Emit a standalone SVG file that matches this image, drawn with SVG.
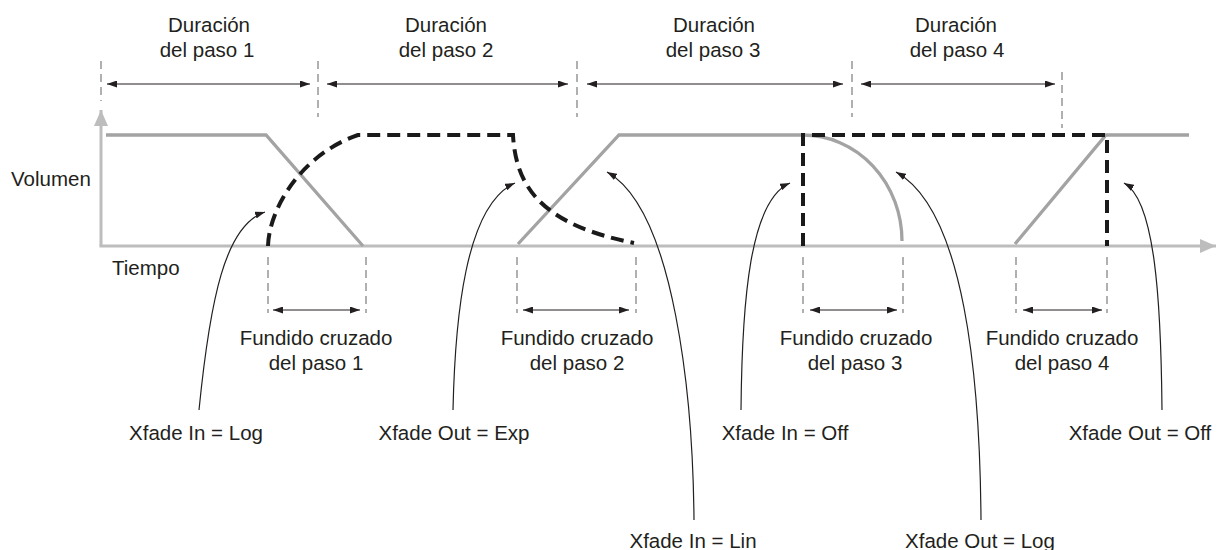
<svg xmlns="http://www.w3.org/2000/svg" width="1218" height="550" viewBox="0 0 1218 550">
<style>
text { font-family: "Liberation Sans", Arial, sans-serif; font-size: 20.5px; fill: #231f20; }
.mid { text-anchor: middle; }
.axis { stroke: #bdbdbd; stroke-width: 3; fill: none; }
.env { stroke: #a3a3a3; stroke-width: 3.3; fill: none; stroke-linejoin: miter; }
.dash { stroke: #1a1a1a; stroke-width: 4; fill: none; stroke-dasharray: 13 7; }
.guide { stroke: #a8a8a8; stroke-width: 1.8; fill: none; stroke-dasharray: 8 5; }
.dim { stroke: #231f20; stroke-width: 1.2; fill: none; marker-start: url(#ah2); marker-end: url(#ah); }
.call { stroke: #231f20; stroke-width: 1.2; fill: none; marker-end: url(#ah); }
</style>
<defs>
<marker id="ah" markerUnits="userSpaceOnUse" markerWidth="10" markerHeight="7" refX="10" refY="3.5" orient="auto">
<path d="M0,0 L10,3.5 L0,7 z" fill="#231f20"/>
</marker>
<marker id="ah2" markerUnits="userSpaceOnUse" markerWidth="10" markerHeight="7" refX="10" refY="3.5" orient="auto-start-reverse">
<path d="M0,0 L10,3.5 L0,7 z" fill="#231f20"/>
</marker>
<marker id="axh" markerUnits="userSpaceOnUse" markerWidth="18" markerHeight="14" refX="16" refY="7" orient="auto">
<path d="M0,0 L16,7 L0,14 z" fill="#bdbdbd"/>
</marker>
</defs>

<g id="axes">
<path class="axis" d="M101,246 L101,110" marker-end="url(#axh)"/>
<path class="axis" d="M99.5,246 L1216,246" marker-end="url(#axh)"/>
<text x="11" y="186">Volumen</text>
<text x="112" y="275">Tiempo</text>
</g>

<g id="step-durations">
<path class="guide" d="M101,61 L101,101"/>
<path class="guide" d="M318,61 L318,117"/>
<path class="guide" d="M577,61 L577,117"/>
<path class="guide" d="M852,61 L852,117"/>
<path class="guide" d="M1062,72 L1062,128"/>
<text class="mid" x="209" y="32">Duración</text>
<text class="mid" x="207" y="57">del paso 1</text>
<text class="mid" x="446" y="32">Duración</text>
<text class="mid" x="446" y="57">del paso 2</text>
<text class="mid" x="714" y="32">Duración</text>
<text class="mid" x="713" y="57">del paso 3</text>
<text class="mid" x="956" y="32">Duración</text>
<text class="mid" x="957" y="57">del paso 4</text>
</g>

<g id="envelopes">
<path class="env" d="M106,135 L266,135 L363,246"/>
<path class="env" d="M518,244 L619,135 L803,135 A99,106 0 0 1 902,241"/>
<path class="env" d="M1015,244 L1106,135 L1189,135"/>
<path class="dash" d="M268,246 C269,210 300,155 358,135 L513,135 C516,190 545,225 634,243"/>
<path class="dash" d="M803,246 L803,135 L1107,135 L1107,246"/>
</g>

<g id="crossfades">
<path class="guide" d="M268,257 L268,313"/>
<path class="guide" d="M366,257 L366,313"/>
<path class="guide" d="M517,257 L517,313"/>
<path class="guide" d="M636,257 L636,313"/>
<path class="guide" d="M803,257 L803,313"/>
<path class="guide" d="M903,257 L903,313"/>
<path class="guide" d="M1016,257 L1016,313"/>
<path class="guide" d="M1107,257 L1107,313"/>
<text class="mid" x="316" y="345">Fundido cruzado</text>
<text class="mid" x="316" y="370">del paso 1</text>
<text class="mid" x="577" y="345">Fundido cruzado</text>
<text class="mid" x="577" y="370">del paso 2</text>
<text class="mid" x="856" y="345">Fundido cruzado</text>
<text class="mid" x="855" y="370">del paso 3</text>
<text class="mid" x="1062" y="345">Fundido cruzado</text>
<text class="mid" x="1062" y="370">del paso 4</text>
</g>

<g id="labels">
<text class="mid" x="196" y="440">Xfade In = Log</text>
<text class="mid" x="454" y="440">Xfade Out = Exp</text>
<text class="mid" x="785" y="440">Xfade In = Off</text>
<text class="mid" x="1140" y="440">Xfade Out = Off</text>
<text class="mid" x="693" y="548">Xfade In = Lin</text>
<text class="mid" x="980" y="548">Xfade Out = Log</text>
</g>

<g id="connectors">
<path class="dim" d="M107,84 L310,84"/>
<path class="dim" d="M327,84 L568,84"/>
<path class="dim" d="M587,84 L843,84"/>
<path class="dim" d="M861,84 L1055,84"/>
<path class="dim" d="M273,310 L360,310"/>
<path class="dim" d="M523,310 L629,310"/>
<path class="dim" d="M810,310 L897,310"/>
<path class="dim" d="M1023,310 L1102,310"/>
<path class="call" d="M199,410 C210,300 225,225 265,212"/>
<path class="call" d="M453,410 C455,320 465,205 515,183"/>
<path class="call" d="M694,520 C693,400 675,210 607,172"/>
<path class="call" d="M741,410 C742,300 750,200 790,183"/>
<path class="call" d="M981,520 C980,380 965,210 896,172"/>
<path class="call" d="M1162,410 C1161,300 1155,200 1124,183"/>
</g>
</svg>
